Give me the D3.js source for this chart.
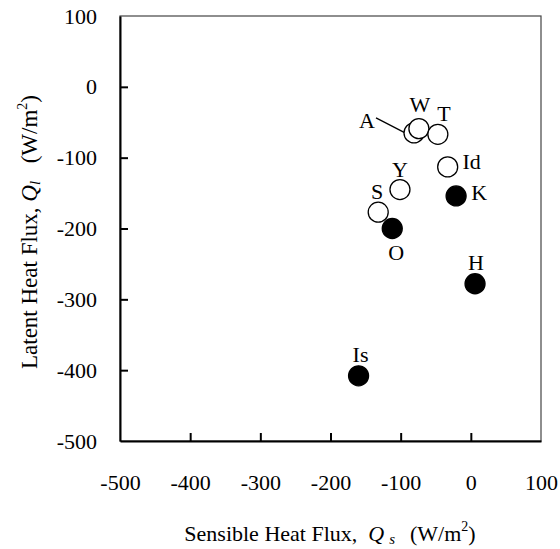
<!DOCTYPE html>
<html>
<head>
<meta charset="utf-8">
<script src="https://cdn.jsdelivr.net/npm/d3@7"></script>
<style>
  body { margin: 0; background: #fff; }
  text { font-family: "Liberation Serif", "Times New Roman", serif; fill: #000; white-space: pre; }
</style>
</head>
<body>
<div id="chart-area"></div>
<script>
// Data
var sites   = ["A", "W", "T", "Id", "Y", "S", "K", "O", "H", "Is"];
var sensible = [-81, -74, -47, -33, -101, -132, -21, -112, 6, -160];
var latent   = [-65, -59, -67, -113, -145, -177, -154, -200, -278, -408];
var filled   = [false, false, false, false, false, false, true, true, true, true];

var xTicks = [-500, -400, -300, -200, -100, 0, 100];
var yTicks = [-500, -400, -300, -200, -100, 0, 100];

// label offsets from the marker (px)
var labelOffset = {
    A: [-47, -13], W: [1, -24], T: [6, -21], Id: [24, -6], Y: [0, -20],
    S: [-1, -21], K: [23, -4], O: [4, 24], H: [1, -21], Is: [2, -22]
};

var margin = { left: 120, right: 19, top: 16, bottom: 108 },
    width = 560 - margin.left - margin.right,
    height = 549 - margin.top - margin.bottom;

var svg = d3.select("#chart-area").append("svg")
    .attr("width", 560)
    .attr("height", 549);

var g = svg.append("g")
    .attr("transform", "translate(" + margin.left + "," + margin.top + ")");

var x = d3.scaleLinear().domain([-500, 100]).range([0, width]);
var y = d3.scaleLinear().domain([-500, 100]).range([height, 0]);

// plot area border (thin grey top / right)
g.append("rect")
    .attr("x", 0).attr("y", 0)
    .attr("width", width).attr("height", height)
    .attr("fill", "none")
    .attr("stroke", "#444")
    .attr("stroke-width", 1.2);

// Axes
var fmt = function(d) { return String(d); };  // plain hyphen, not unicode minus
var xAxisCall = d3.axisBottom(x).tickValues(xTicks).tickFormat(fmt)
    .tickSizeInner(-8).tickSizeOuter(0).tickPadding(33);
var yAxisCall = d3.axisLeft(y).tickValues(yTicks).tickFormat(fmt)
    .tickSizeInner(-8).tickSizeOuter(0).tickPadding(23);

var xAxis = g.append("g")
    .attr("transform", "translate(0," + height + ")")
    .call(xAxisCall);
var yAxis = g.append("g").call(yAxisCall);

[xAxis, yAxis].forEach(function(ax) {
    ax.select(".domain").attr("stroke", "#000").attr("stroke-width", 2);
    ax.selectAll(".tick line").attr("stroke", "#000").attr("stroke-width", 2);
    ax.selectAll(".tick text")
        .attr("font-family", "Liberation Serif, Times New Roman, serif")
        .attr("font-size", "22px")
        .attr("fill", "#000");
});
xAxis.selectAll(".tick line").filter(function(d) { return d === -500 || d === 100; }).remove();
yAxis.selectAll(".tick line").filter(function(d) { return d === -500 || d === 100; }).remove();

// Points
var pts = sites.map(function(s, i) {
    return { name: s, qs: sensible[i], ql: latent[i], filled: filled[i] };
});

// leader line for A
var a = pts[0];
g.append("line")
    .attr("x1", x(a.qs) - 38).attr("y1", y(a.ql) - 15)
    .attr("x2", x(a.qs) - 7).attr("y2", y(a.ql) + 1)
    .attr("stroke", "#000")
    .attr("stroke-width", 1.3);

g.selectAll("circle.pt")
    .data(pts)
    .enter().append("circle")
    .attr("class", "pt")
    .attr("cx", function(d) { return x(d.qs); })
    .attr("cy", function(d) { return y(d.ql); })
    .attr("r", 10)
    .attr("fill", function(d) { return d.filled ? "#000" : "#fff"; })
    .attr("stroke", "#000")
    .attr("stroke-width", 1.3);

g.selectAll("text.lbl")
    .data(pts)
    .enter().append("text")
    .attr("class", "lbl")
    .attr("x", function(d) { return x(d.qs) + labelOffset[d.name][0]; })
    .attr("y", function(d) { return y(d.ql) + labelOffset[d.name][1]; })
    .attr("dy", "0.35em")
    .attr("text-anchor", "middle")
    .attr("font-size", "22px")
    .text(function(d) { return d.name; });

// Axis titles
var xt = svg.append("text")
    .attr("x", 330)
    .attr("y", 541)
    .attr("text-anchor", "middle")
    .attr("font-size", "22px");
xt.append("tspan").text("Sensible Heat Flux,  ");
xt.append("tspan").attr("font-style", "italic").text("Q");
xt.append("tspan").attr("font-style", "italic").attr("font-size", "15px").attr("dx", "5").attr("dy", "3").text("s");
xt.append("tspan").attr("dy", "-3").attr("dx", "4").text("  (W/m");
xt.append("tspan").attr("font-size", "14px").attr("dy", "-10").text("2");
xt.append("tspan").attr("dy", "10").text(")");

var yt = svg.append("text")
    .attr("transform", "translate(37,232) rotate(-90)")
    .attr("text-anchor", "middle")
    .attr("font-size", "23px");
yt.append("tspan").text("Latent Heat Flux, ");
yt.append("tspan").attr("font-style", "italic").text("Q");
yt.append("tspan").attr("font-style", "italic").attr("font-size", "15px").attr("dy", "3").text("l");
yt.append("tspan").attr("dy", "-3").attr("dx", "6").text("  (W/m");
yt.append("tspan").attr("font-size", "14px").attr("dy", "-10").text("2");
yt.append("tspan").attr("dy", "10").text(")");
</script>
</body>
</html>
